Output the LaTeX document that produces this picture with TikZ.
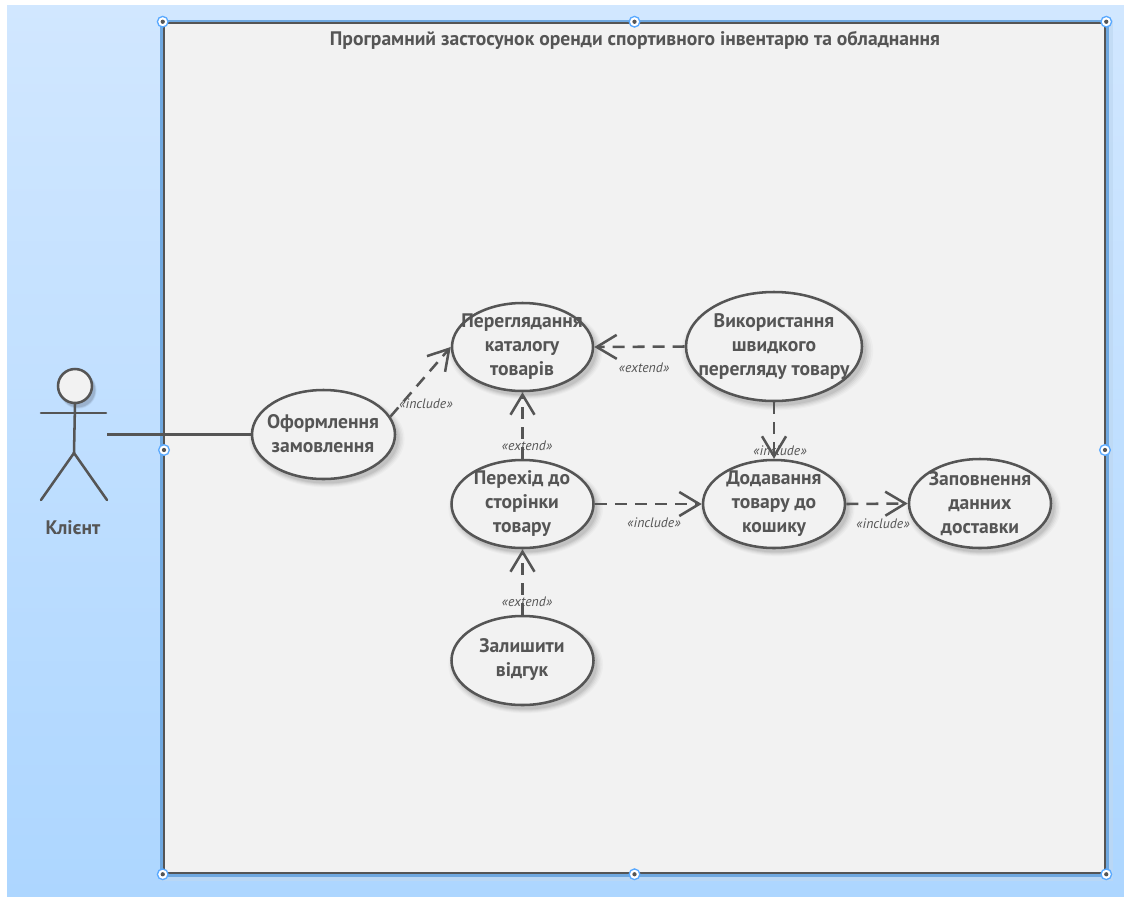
\documentclass[tikz,border=0pt]{standalone}
\usepackage{fontspec}
\setmainfont{PT Sans}
\usetikzlibrary{arrows.meta,shapes.geometric,shadows}
\definecolor{ink}{HTML}{555555}
\definecolor{paper}{HTML}{F2F2F2}
\definecolor{halo}{HTML}{6FA8E0}
\definecolor{grip}{HTML}{59A9FF}
\definecolor{bgtop}{HTML}{D1E7FF}
\definecolor{bgbot}{HTML}{ADD6FF}
\tikzset{
  softshadow/.style={
    general shadow={shadow xshift=2.2pt,shadow yshift=-3pt,shadow scale=1.09,fill=black,opacity=.025},
    general shadow={shadow xshift=2.2pt,shadow yshift=-3pt,shadow scale=1.07,fill=black,opacity=.03},
    general shadow={shadow xshift=2.2pt,shadow yshift=-3pt,shadow scale=1.05,fill=black,opacity=.04},
    general shadow={shadow xshift=2.2pt,shadow yshift=-3pt,shadow scale=1.03,fill=black,opacity=.05},
    general shadow={shadow xshift=2.2pt,shadow yshift=-3pt,shadow scale=1.01,fill=black,opacity=.06}},
  usecase/.style={ellipse,draw=ink,line width=1.9pt,fill=paper,inner sep=0pt,softshadow},
  uctext/.style={font=\fontsize{14.7}{18}\selectfont\bfseries,text=ink,align=center,inner sep=0pt},
  rel/.style={draw=ink,line width=1.9pt,dash pattern=on 9pt off 6pt,
    -{Straight Barb[length=15pt,width=18pt,line width=1.9pt]}},
  assoc/.style={draw=ink,line width=1.9pt},
  limb/.style={draw=ink,line width=1.9pt,line cap=round},
  rellabel/.style={font=\fontsize{10.3}{12}\selectfont\itshape,text=ink,inner sep=0pt},
  handle/.style={circle,draw=grip,fill=white,line width=1pt,minimum size=8pt,inner sep=0pt,
    path picture={\fill[ink] (path picture bounding box.center) circle (1.6pt);}}
}
\begin{document}
\begin{tikzpicture}[x=0.75pt,y=-0.75pt]
\useasboundingbox (0,0) rectangle (1124,896);
\fill[white] (0,0) rectangle (1124,896);
\shade[top color=bgtop,bottom color=bgbot] (7,5) rectangle (1124,896);
% frame
\fill[halo!45,opacity=.7] (160,20) rectangle (1113,881);
\fill[halo] (160,20) rectangle (1109,877);
\node[draw=ink,fill=paper,line width=1.9pt,inner sep=0pt,minimum width=941*.75pt,minimum height=850*.75pt] (frame) at (634.5,448) {};
\node[uctext] (title) at (635,40) {Програмний застосунок оренди спортивного інвентарю та обладнання};
% use cases
\node[usecase,minimum width=143*.75pt,minimum height=89*.75pt] (order) at (323.5,434.5) {};
\node[uctext] (order-t) at (323,434) {Оформлення\\замовлення};
\node[usecase,minimum width=141*.75pt,minimum height=88*.75pt] (catalog) at (522.5,347) {};
\node[uctext] (catalog-t) at (522,347) {Переглядання\\каталогу\\товарів};
\node[usecase,minimum width=176*.75pt,minimum height=109*.75pt] (quick) at (774,346.5) {};
\node[uctext] (quick-t) at (774,347) {Використання\\швидкого\\перегляду товару};
\node[usecase,minimum width=142*.75pt,minimum height=88*.75pt] (page) at (522.5,504) {};
\node[uctext] (page-t) at (522,504) {Перехід до\\сторінки\\товару};
\node[usecase,minimum width=142*.75pt,minimum height=88*.75pt] (cart) at (774,504) {};
\node[uctext] (cart-t) at (774,504) {Додавання\\товару до\\кошику};
\node[usecase,minimum width=142*.75pt,minimum height=89*.75pt] (delivery) at (980,503.5) {};
\node[uctext] (delivery-t) at (980,504) {Заповнення\\данних\\доставки};
\node[usecase,minimum width=142*.75pt,minimum height=89*.75pt] (review) at (522.5,660.5) {};
\node[uctext] (review-t) at (522,660) {Залишити\\відгук};
% actor
\node[circle,draw=ink,fill=paper,line width=1.9pt,inner sep=0pt,minimum size=34*.75pt,softshadow] (head) at (75,386) {};
\coordinate (armL) at (41,413);
\coordinate (armR) at (106,413);
\coordinate (hip) at (74,453);
\coordinate (footL) at (41,500);
\coordinate (footR) at (107,500);
\coordinate (hand) at (107,434.5);
\draw[limb] (head.south) -- (hip);
\draw[limb] (armL) -- (armR);
\draw[limb] (footL) -- (hip) -- (footR);
\node[uctext] (actor) at (73,528) {Клієнт};
% connectors
\draw[assoc] (hand) -- (order.west);
\draw[rel] (order.15) -- (catalog.west);
\draw[rel] (quick.west) -- (catalog.east);
\draw[rel] (page.north) -- (catalog.south);
\draw[rel] (quick.south) -- (cart.north);
\draw[rel] (page.east) -- (cart.west);
\draw[rel] (cart.east) -- (delivery.west);
\draw[rel] (review.north) -- (page.south);
% labels
\node[rellabel] (l1) at (426,404) {«include»};
\node[rellabel] (l2) at (644,368) {«extend»};
\node[rellabel] (l3) at (527,446) {«extend»};
\node[rellabel] (l4) at (780,451) {«include»};
\node[rellabel] (l5) at (654,523) {«include»};
\node[rellabel] (l6) at (883,524) {«include»};
\node[rellabel] (l7) at (527,602) {«extend»};
% grips
\node[handle] (g1) at (frame.north west) {};
\node[handle] (g2) at (frame.north) {};
\node[handle] (g3) at (frame.north east) {};
\node[handle] (g4) at (164,450) {};
\node[handle] (g5) at (1105,450) {};
\node[handle] (g6) at (frame.south west) {};
\node[handle] (g7) at (frame.south) {};
\node[handle] (g8) at (frame.south east) {};
\end{tikzpicture}
\end{document}
